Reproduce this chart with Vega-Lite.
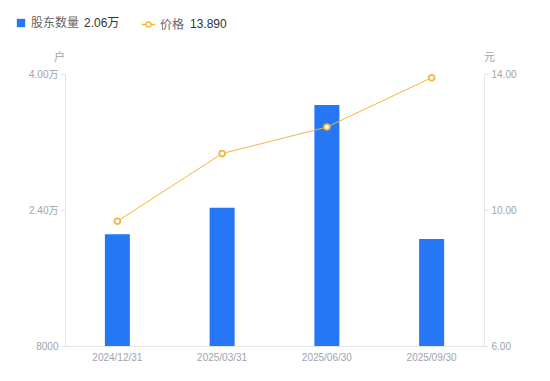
{
  "$schema": "https://vega.github.io/schema/vega-lite/v6.json",
  "width": 419,
  "height": 272,
  "autosize": {"type": "none"},
  "padding": {"left": 65, "top": 74, "right": 66, "bottom": 35},
  "background": "white",
  "config": {
    "view": {"stroke": null},
    "font": "Liberation Sans, Noto Sans CJK SC, sans-serif",
    "axis": {"grid": false, "labelFont": "Liberation Sans, Noto Sans CJK SC", "titleFont": "Liberation Sans, Noto Sans CJK SC"},
    "legend": {"labelFont": "Liberation Sans, Noto Sans CJK SC", "titleFont": "Liberation Sans, Noto Sans CJK SC"}
  },
  "data": {
    "values": [
      {"date": "2024/12/31", "holders": 21140, "price": 9.67},
      {"date": "2025/03/31", "holders": 24270, "price": 11.66},
      {"date": "2025/06/30", "holders": 36350, "price": 12.44},
      {"date": "2025/09/30", "holders": 20600, "price": 13.89}
    ]
  },
  "encoding": {
    "x": {
      "field": "date",
      "type": "ordinal",
      "scale": {"paddingInner": 0, "paddingOuter": 0},
      "axis": {
        "title": null,
        "labelAngle": 0,
        "ticks": false,
        "domainColor": "#e3e5e9",
        "labelColor": "#9ea3ae",
        "labelFontSize": 10,
        "labelPadding": 6
      }
    }
  },
  "layer": [
    {
      "mark": {"type": "bar", "size": 25, "fill": "#2577F5", "clip": true},
      "encoding": {
        "y": {
          "field": "holders",
          "type": "quantitative",
          "scale": {"domain": [8000, 40000], "nice": false, "zero": false},
          "axis": {
            "orient": "left",
            "values": [8000, 24000, 40000],
            "labelExpr": "datum.value >= 10000 ? format(datum.value / 10000, '.2f') + '万' : format(datum.value, 'd')",
            "title": "户",
            "titleAngle": 0,
            "titleX": -6,
            "titleY": -17,
            "titleAlign": "center",
            "titleBaseline": "middle",
            "titleFontSize": 11,
            "titleFontWeight": "normal",
            "titleColor": "#9ea3ae",
            "labelColor": "#9ea3ae",
            "labelFontSize": 10,
            "domainColor": "#e3e5e9",
            "tickColor": "#e3e5e9",
            "tickSize": 5,
            "labelPadding": 2
          }
        },
        "fill": {
          "datum": "股东数量",
          "scale": {"range": ["#2577F5"]},
          "legend": {
            "orient": "none",
            "legendX": -50,
            "legendY": -57,
            "title": "2.06万",
            "titleOrient": "right",
            "titleFontSize": 12,
            "titleFontWeight": "normal",
            "titleColor": "#333333",
            "titlePadding": 5,
            "titleBaseline": "middle",
            "labelFontSize": 12,
            "labelColor": "#666666",
            "labelOffset": 4,
            "symbolType": "square",
            "symbolSize": 70,
            "symbolStrokeWidth": 0
          }
        }
      }
    },
    {
      "encoding": {
        "y": {
          "field": "price",
          "type": "quantitative",
          "scale": {"domain": [6, 14], "nice": false, "zero": false},
          "axis": {
            "orient": "right",
            "values": [6, 10, 14],
            "format": ".2f",
            "title": "元",
            "titleAngle": 0,
            "titleX": 5,
            "titleY": -17,
            "titleAlign": "center",
            "titleBaseline": "middle",
            "titleFontSize": 11,
            "titleFontWeight": "normal",
            "titleColor": "#9ea3ae",
            "labelColor": "#9ea3ae",
            "labelFontSize": 10,
            "domainColor": "#e3e5e9",
            "tickColor": "#e3e5e9",
            "tickSize": 4,
            "labelPadding": 3
          }
        },
        "stroke": {
          "datum": "价格",
          "scale": {"range": ["#F6B43C"]},
          "legend": {
            "orient": "none",
            "legendX": 76,
            "legendY": -57,
            "title": "13.890",
            "titleOrient": "right",
            "titleFontSize": 12,
            "titleFontWeight": "normal",
            "titleColor": "#333333",
            "titlePadding": 6,
            "titleBaseline": "middle",
            "labelFontSize": 12,
            "labelColor": "#666666",
            "symbolType": "M-1,0L-0.38,0M0.38,0L1,0M-0.38,0A0.38,0.38,0,1,1,0.38,0A0.38,0.38,0,1,1,-0.38,0",
            "symbolSize": 180,
            "symbolStrokeWidth": 1.5,
            "symbolFillColor": "white"
          }
        }
      },
      "layer": [
        {"mark": {"type": "line", "strokeWidth": 1}},
        {"mark": {"type": "point", "filled": true, "fill": "white", "size": 34, "strokeWidth": 1.8, "opacity": 1}}
      ]
    }
  ],
  "resolve": {"scale": {"y": "independent"}}
}
